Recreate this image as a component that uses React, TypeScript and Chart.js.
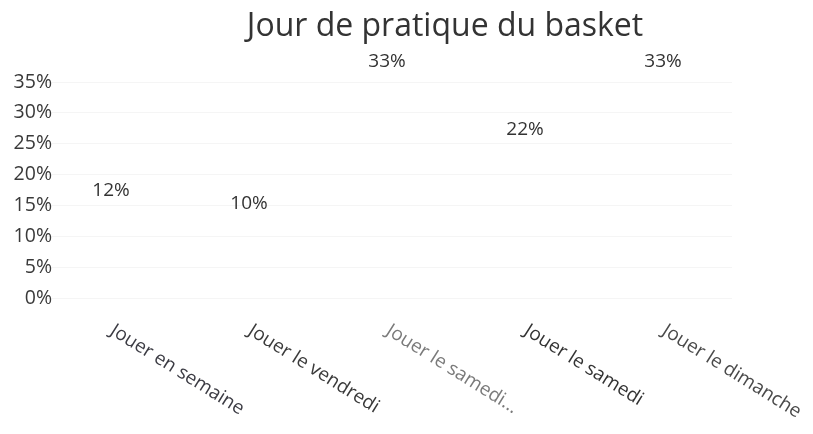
import React, { useEffect, useRef } from "react";
import { Chart, registerables } from "chart.js";

Chart.register(...registerables);

// ---- data ----
const titleText = "Jour de pratique du basket";
const categories = [
  "Jouer en semaine",
  "Jouer le vendredi",
  "Jouer le samedi...",
  "Jouer le samedi",
  "Jouer le dimanche",
];
const shares = [0.12, 0.1, 0.33, 0.22, 0.33];
const shareLabels = ["12%", "10%", "33%", "22%", "33%"];
const yTickValues = [0, 0.05, 0.1, 0.15, 0.2, 0.25, 0.3, 0.35];
const yTickLabels = ["0%", "5%", "10%", "15%", "20%", "25%", "30%", "35%"];

// ---- style ----
const FONT = '"Open Sans", "Noto Sans", sans-serif';
const catColors = ["#3c3c44", "#3a3a3a", "#7a7a7a", "#333333", "#4a4a4a"];

const overlayPlugin = {
  id: "overlay",
  afterDraw(chart: any) {
    const ctx = chart.ctx as CanvasRenderingContext2D;
    const xs = chart.scales.x;
    const ys = chart.scales.y;
    const area = chart.chartArea;
    ctx.save();
    // title
    ctx.font = `32px ${FONT}`;
    ctx.fillStyle = "#333333";
    ctx.textAlign = "center";
    ctx.textBaseline = "alphabetic";
    ctx.fillText(titleText, 437, 28);

    // y tick labels
    ctx.font = `19.5px ${FONT}`;
    ctx.fillStyle = "#3a3a3a";
    ctx.textAlign = "right";
    ctx.textBaseline = "middle";
    yTickValues.forEach((v, i) => {
      ctx.fillText(yTickLabels[i], area.left + 10, ys.getPixelForValue(v));
    });

    // value labels
    ctx.font = `19px ${FONT}`;
    ctx.fillStyle = "#333333";
    ctx.textAlign = "center";
    ctx.textBaseline = "middle";
    shares.forEach((v, i) => {
      ctx.fillText(shareLabels[i], xs.getPixelForValue(i), ys.getPixelForValue(v) - 33);
    });

    // rotated category labels
    ctx.font = `19px ${FONT}`;
    categories.forEach((c, i) => {
      const px = xs.getPixelForValue(i) + 6;
      const py = area.bottom + 23;
      ctx.save();
      ctx.translate(px, py);
      ctx.rotate((32 * Math.PI) / 180);
      ctx.textAlign = "left";
      ctx.textBaseline = "top";
      ctx.fillStyle = catColors[i];
      ctx.fillText(c, 0, 0);
      ctx.restore();
    });
    ctx.restore();
  },
};

export default function App() {
  const ref = useRef<HTMLCanvasElement | null>(null);
  useEffect(() => {
    if (!ref.current) return;
    const chart = new Chart(ref.current, {
      type: "bar",
      data: {
        labels: categories,
        datasets: [
          {
            data: shares,
            backgroundColor: "rgba(255,255,255,0)",
            borderWidth: 0,
            categoryPercentage: 0.55,
            barPercentage: 1,
          },
        ],
      },
      options: {
        animation: false,
        responsive: true,
        maintainAspectRatio: false,
        layout: { padding: { top: 74, bottom: 128, right: 81, left: 0 } },
        plugins: {
          legend: { display: false },
          title: { display: false },
          tooltip: { enabled: false },
        },
        scales: {
          x: {
            ticks: { display: false },
            grid: { display: false, drawTicks: false },
            border: { display: false },
          },
          y: {
            min: 0,
            max: 0.35,
            afterBuildTicks: (s: any) => {
              s.ticks = yTickValues.map((v) => ({ value: v }));
            },
            afterFit: (s: any) => {
              s.width = 34;
            },
            ticks: { display: false },
            grid: { color: "#f5f5f5", drawTicks: false },
            border: { display: false },
          },
        },
      },
      plugins: [overlayPlugin],
    });
    return () => chart.destroy();
  }, []);
  return (
    <div style={{ width: 805, height: 418 }}>
      <canvas ref={ref} />
    </div>
  );
}
